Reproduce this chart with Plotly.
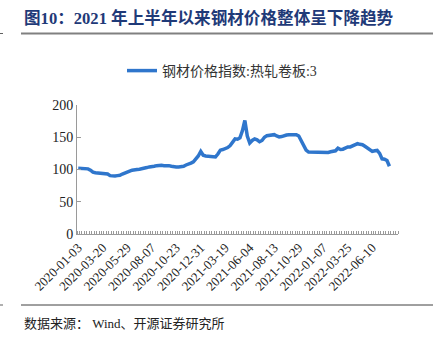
import pandas as pd
import plotly.graph_objects as go

# Weekly observation dates (Fridays), skipping holiday weeks
holiday_weeks = ["2020-01-31", "2020-10-02", "2021-02-12", "2021-04-30",
                 "2021-10-01", "2022-02-04", "2022-06-03"]
fridays = pd.date_range("2020-01-03", "2022-08-19", freq="W-FRI")
dates = [d.strftime("%Y-%m-%d") for d in fridays if d.strftime("%Y-%m-%d") not in holiday_weeks]
dates = ["2020-12-31" if d == "2021-01-01" else d for d in dates]

# Steel price index: hot-rolled coil
steel_index = [
    102, 102, 102, 102, 101, 99, 96, 95, 94.5, 94,
    94, 93.5, 93, 90.5, 90, 90, 90.5, 91, 93, 95,
    97, 97.5, 99, 100, 100, 100.5, 101, 102, 103, 104,
    104, 105, 106, 106.5, 106.5, 106, 106.5, 106, 105, 104,
    104, 104, 104.5, 105, 107, 108, 110, 112, 116, 121,
    128, 122, 121, 120.5, 120, 119.5, 119.5, 124, 130, 131,
    132, 134, 137, 143, 147.5, 147, 149, 160, 176, 152,
    141, 145, 147.5, 146, 143, 145, 150, 152.5, 153, 154.5,
    154, 152, 150.5, 151, 152.5, 153.5, 154, 154, 154, 154,
    152, 145, 137, 130, 127, 127, 126, 126, 126.5, 126.5,
    126.5, 126, 126.5, 127.5, 128.5, 129, 133, 131, 131.5, 134,
    135, 135, 137, 139, 140, 139, 138.5, 136, 133, 130,
    128, 129, 129.5, 125, 116.5, 116, 114, 105,
]

y_ticks = [0, 50, 100, 150, 200]
label_idx = list(range(0, 121, 10))
x_ticktext = [dates[i] for i in label_idx]

title_text = "图10：2021 年上半年以来钢材价格整体呈下降趋势"
legend_name = "钢材价格指数:热轧卷板:3"
source_text = "数据来源： Wind、开源证券研究所"

W, H = 437, 345
L, R, T, B = 77, 39, 105, 111
PW, PH = W - L - R, H - T - B


def px(xp):
    return (xp - L) / PW


def py(yp):
    return (H - B - yp) / PH


serif = "Liberation Serif, 'Noto Sans CJK SC', serif"

fig = go.Figure()
fig.add_trace(go.Scatter(
    x=list(range(len(steel_index))), y=steel_index, mode="lines",
    name=legend_name, line=dict(color="#2F76CC", width=3.5),
))

fig.update_layout(
    width=W, height=H, margin=dict(l=L, r=R, t=T, b=B),
    paper_bgcolor="white", plot_bgcolor="white",
    showlegend=True,
    legend=dict(orientation="h", x=px(122), y=py(71), xanchor="left", yanchor="middle",
                font=dict(family=serif, size=14, color="#333333"),
                bgcolor="rgba(0,0,0,0)", itemwidth=30),
    xaxis=dict(
        range=[-0.5, len(dates) - 0.5], tickmode="array", tickvals=label_idx,
        ticktext=x_ticktext, tickangle=-45, ticks="", showgrid=False, zeroline=False,
        showline=True, linecolor="#9A9A9A", linewidth=1,
        tickfont=dict(family=serif, size=13, color="#222222"),
        minor=dict(tick0=0.5, dtick=1, ticks="inside", ticklen=3,
                   tickcolor="#9A9A9A", showgrid=False),
    ),
    yaxis=dict(
        range=[0, 200], tickmode="array", tickvals=y_ticks, ticks="inside",
        ticklen=4, tickcolor="#9A9A9A", showgrid=False, zeroline=False,
        showline=True, linecolor="#9A9A9A", linewidth=1,
        tickfont=dict(family=serif, size=14, color="#222222"),
    ),
    shapes=[
        dict(type="line", xref="paper", yref="paper", x0=px(21), x1=px(433),
             y0=py(33.5), y1=py(33.5), line=dict(color="#808080", width=2)),
        dict(type="line", xref="paper", yref="paper", x0=px(21), x1=px(433),
             y0=py(305), y1=py(305), line=dict(color="#404040", width=1)),
        dict(type="line", xref="paper", yref="paper", x0=px(0), x1=px(3),
             y0=py(33.5), y1=py(33.5), line=dict(color="#606060", width=1)),
        dict(type="line", xref="paper", yref="paper", x0=px(0), x1=px(3),
             y0=py(305), y1=py(305), line=dict(color="#606060", width=1)),
    ],
    annotations=[
        dict(text="<b>" + title_text + "</b>", xref="paper", yref="paper",
             x=px(22), y=py(18), xanchor="left", yanchor="middle", showarrow=False,
             font=dict(family=serif, size=16.6, color="#1F3A78")),
        dict(text=source_text, xref="paper", yref="paper",
             x=px(22), y=py(323), xanchor="left", yanchor="middle", showarrow=False,
             font=dict(family=serif, size=13, color="#222222")),
    ],
)

fig.write_html("out.html")
